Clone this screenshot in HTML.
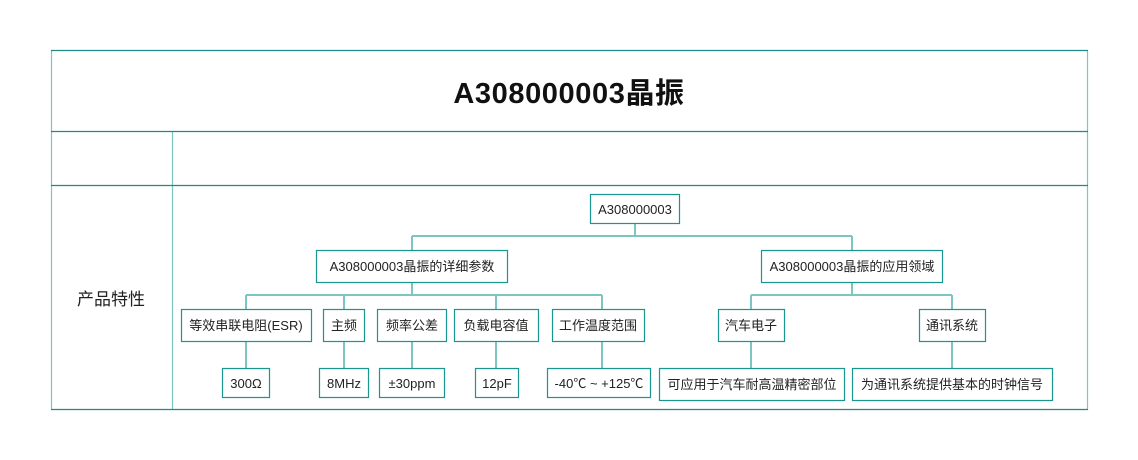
<!DOCTYPE html>
<html><head><meta charset="utf-8"><style>
html,body{margin:0;padding:0;background:#fff;width:1138px;height:460px;overflow:hidden}
text{font-family:"Liberation Sans","Noto Sans CJK SC",sans-serif;fill:#222}
</style></head><body>
<svg width="1138" height="460" viewBox="0 0 1138 460" xmlns="http://www.w3.org/2000/svg">
<g stroke="#7cc6c2" stroke-width="1.2" fill="none">
<line x1="51.5" y1="50" x2="51.5" y2="409.5"/>
<line x1="1087.5" y1="50" x2="1087.5" y2="409.5"/>
<line x1="172.5" y1="131" x2="172.5" y2="409.5"/>
</g>
<g stroke="#1f8a84" stroke-width="1.2" fill="none">
<line x1="51" y1="50.5" x2="1088" y2="50.5"/>
<line x1="51" y1="131.5" x2="1088" y2="131.5"/>
<line x1="51" y1="185.5" x2="1088" y2="185.5"/>
<line x1="51" y1="409.5" x2="1088" y2="409.5"/>
</g>
<text x="569" y="103" text-anchor="middle" font-size="29" font-weight="bold" letter-spacing="0.6" style="fill:#111">A308000003晶振</text>
<text x="111" y="305" text-anchor="middle" font-size="17">产品特性</text>
<g stroke="#7cc6c2" stroke-width="2" fill="none">
<line x1="635" y1="223" x2="635" y2="236"/>
<line x1="412" y1="236" x2="852" y2="236"/>
<line x1="412" y1="236" x2="412" y2="250"/>
<line x1="852" y1="236" x2="852" y2="250"/>
<line x1="412" y1="282" x2="412" y2="295"/>
<line x1="246" y1="295" x2="602" y2="295"/>
<line x1="246" y1="295" x2="246" y2="309"/>
<line x1="344" y1="295" x2="344" y2="309"/>
<line x1="496" y1="295" x2="496" y2="309"/>
<line x1="602" y1="295" x2="602" y2="309"/>
<line x1="852" y1="282" x2="852" y2="295"/>
<line x1="751" y1="295" x2="952" y2="295"/>
<line x1="751" y1="295" x2="751" y2="309"/>
<line x1="952" y1="295" x2="952" y2="309"/>
<line x1="246" y1="341" x2="246" y2="368"/>
<line x1="344" y1="341" x2="344" y2="368"/>
<line x1="412" y1="341" x2="412" y2="368"/>
<line x1="496" y1="341" x2="496" y2="368"/>
<line x1="602" y1="341" x2="602" y2="368"/>
<line x1="751" y1="341" x2="751" y2="368"/>
<line x1="952" y1="341" x2="952" y2="368"/>
</g>
<g stroke="#1a9690" stroke-width="1.2" fill="#fff">
<rect x="590.5" y="194.5" width="89" height="29"/>
<rect x="316.5" y="250.5" width="191" height="32"/>
<rect x="761.5" y="250.5" width="181" height="32"/>
<rect x="181.5" y="309.5" width="130" height="32"/>
<rect x="323.5" y="309.5" width="41" height="32"/>
<rect x="377.5" y="309.5" width="69" height="32"/>
<rect x="454.5" y="309.5" width="84" height="32"/>
<rect x="552.5" y="309.5" width="92" height="32"/>
<rect x="718.5" y="309.5" width="66" height="32"/>
<rect x="919.5" y="309.5" width="66" height="32"/>
<rect x="222.5" y="368.5" width="47" height="29"/>
<rect x="319.5" y="368.5" width="49" height="29"/>
<rect x="379.5" y="368.5" width="65" height="29"/>
<rect x="475.5" y="368.5" width="43" height="29"/>
<rect x="547.5" y="368.5" width="103" height="29"/>
<rect x="659.5" y="368.5" width="185" height="32"/>
<rect x="852.5" y="368.5" width="200" height="32"/>
</g>
<g font-size="13" text-anchor="middle">
<text x="635" y="214">A308000003</text>
<text x="412" y="271">A308000003晶振的详细参数</text>
<text x="852" y="271">A308000003晶振的应用领域</text>
<text x="246" y="330">等效串联电阻(ESR)</text>
<text x="344" y="330">主频</text>
<text x="412" y="330">频率公差</text>
<text x="496" y="330">负载电容值</text>
<text x="598" y="330">工作温度范围</text>
<text x="751" y="330">汽车电子</text>
<text x="952" y="330">通讯系统</text>
<text x="246" y="388">300Ω</text>
<text x="344" y="388">8MHz</text>
<text x="412" y="388">±30ppm</text>
<text x="497" y="388">12pF</text>
<text x="599" y="388">-40℃ ~ +125℃</text>
<text x="752" y="389">可应用于汽车耐高温精密部位</text>
<text x="952" y="389">为通讯系统提供基本的时钟信号</text>
</g>
</svg>
</body></html>
